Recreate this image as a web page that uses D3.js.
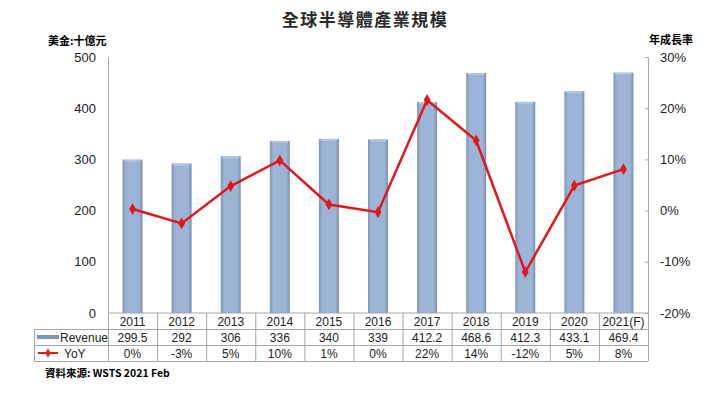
<!DOCTYPE html>
<html>
<head>
<meta charset="utf-8">
<script src="https://d3js.org/d3.v7.min.js"></script>
<style>
  body { margin: 0; background: #fff; }
  text { font-family: "Liberation Sans", Arial, sans-serif; }
  .cjk { font-family: "Noto Sans CJK TC", sans-serif; font-weight: bold; }
</style>
</head>
<body>
<script>
// data
var years = ['2011', '2012', '2013', '2014', '2015', '2016', '2017', '2018', '2019', '2020', '2021(F)'];
var revenue = [299.5, 292, 306, 336, 340, 339, 412.2, 468.6, 412.3, 433.1, 469.4];
var yoy = [0.3, -2.5, 4.8, 9.8, 1.2, -0.3, 21.6, 13.7, -12.0, 4.9, 8.1];
var revenueLabels = ['299.5', '292', '306', '336', '340', '339', '412.2', '468.6', '412.3', '433.1', '469.4'];
var yoyLabels = ['0%', '-3%', '5%', '10%', '1%', '0%', '22%', '14%', '-12%', '5%', '8%'];
var leftTicks = [0, 100, 200, 300, 400, 500];
var rightTicks = [-20, -10, 0, 10, 20, 30];

var width = 720, height = 396;
// plot box (note: "top" is taken by window.top, so use other names)
var pLeft = 108, pRight = 648, pTop = 57, pBottom = 313;
var rowH = 16;

var svg = d3.select('body').append('svg')
  .attr('width', width)
  .attr('height', height);

// bar gradient, darker edges like the bevelled excel bars
var defs = svg.append('defs');
var grad = defs.append('linearGradient').attr('id', 'barGrad')
  .attr('x1', '0%').attr('x2', '100%').attr('y1', '0%').attr('y2', '0%');
grad.append('stop').attr('offset', '0%').attr('stop-color', '#7d95b8');
grad.append('stop').attr('offset', '18%').attr('stop-color', '#9cb4d6');
grad.append('stop').attr('offset', '82%').attr('stop-color', '#9cb4d6');
grad.append('stop').attr('offset', '100%').attr('stop-color', '#7990b3');

var x = d3.scaleBand().domain(years).range([pLeft, pRight]);
var yL = d3.scaleLinear().domain([0, 500]).range([pBottom, pTop]);
var yR = d3.scaleLinear().domain([-20, 30]).range([pBottom, pTop]);

// title + unit labels
svg.append('text').attr('class', 'cjk')
  .attr('x', 365).attr('y', 26)
  .attr('text-anchor', 'middle')
  .attr('font-size', 17)
  .attr('letter-spacing', 1.5)
  .attr('fill', '#2a2a2a')
  .text('全球半導體產業規模');

svg.append('text').attr('class', 'cjk')
  .attr('x', 48).attr('y', 45)
  .attr('font-size', 11)
  .text('美金:十億元');

svg.append('text').attr('class', 'cjk')
  .attr('x', 649).attr('y', 44)
  .attr('font-size', 11)
  .text('年成長率');

// left axis
var axL = svg.append('g')
  .attr('transform', 'translate(' + pLeft + ',0)')
  .call(d3.axisLeft(yL).tickValues(leftTicks).tickSize(0).tickPadding(12));
axL.select('.domain').attr('stroke', '#a6a6a6');
axL.selectAll('text').attr('font-size', 13).attr('fill', '#222')
  .attr('font-family', '"Liberation Sans", Arial, sans-serif');

// right axis
var axR = svg.append('g')
  .attr('transform', 'translate(' + pRight + ',0)')
  .call(d3.axisRight(yR).tickValues(rightTicks).tickSize(0).tickPadding(12)
    .tickFormat(function(d) { return d + '%'; }));
axR.select('.domain').attr('stroke', '#a6a6a6');
axR.selectAll('.tick line').attr('x1', -3).attr('x2', 0).attr('stroke', '#a6a6a6');
axR.selectAll('text').attr('font-size', 13).attr('fill', '#222')
  .attr('font-family', '"Liberation Sans", Arial, sans-serif');

// bars
var barW = 20;
svg.append('g').selectAll('rect')
  .data(revenue)
  .enter()
  .append('rect')
  .attr('x', function(d, i) { return x(years[i]) + x.bandwidth() / 2 - barW / 2; })
  .attr('y', function(d) { return yL(d); })
  .attr('width', barW)
  .attr('height', function(d) { return yL(0) - yL(d); })
  .attr('fill', 'url(#barGrad)');

// little lighter cap on each bar
svg.append('g').selectAll('rect')
  .data(revenue)
  .enter()
  .append('rect')
  .attr('x', function(d, i) { return x(years[i]) + x.bandwidth() / 2 - barW / 2 + 2; })
  .attr('y', function(d) { return yL(d); })
  .attr('width', barW - 4)
  .attr('height', 2)
  .attr('fill', '#b3c7e3');

// yoy line
var line = d3.line()
  .x(function(d, i) { return x(years[i]) + x.bandwidth() / 2; })
  .y(function(d) { return yR(d); });

svg.append('path')
  .datum(yoy)
  .attr('d', line)
  .attr('fill', 'none')
  .attr('stroke', '#e3161b')
  .attr('stroke-width', 2.5);

var diamond = d3.symbol().type(d3.symbolDiamond).size(40);
svg.append('g').selectAll('path')
  .data(yoy)
  .enter()
  .append('path')
  .attr('d', diamond)
  .attr('transform', function(d, i) {
    return 'translate(' + (x(years[i]) + x.bandwidth() / 2) + ',' + yR(d) + ')';
  })
  .attr('fill', '#e3161b');

// data table below the plot
var table = svg.append('g');
var gridC = '#a6a6a6';
var tLeft = 34;
var rowsY = [pBottom, pBottom + rowH, pBottom + rowH * 2, pBottom + rowH * 3];

// horizontal lines
table.append('line').attr('x1', pLeft).attr('x2', pRight)
  .attr('y1', rowsY[0]).attr('y2', rowsY[0]).attr('stroke', gridC);
[1, 2, 3].forEach(function(r) {
  table.append('line').attr('x1', tLeft).attr('x2', pRight)
    .attr('y1', rowsY[r] + 0.5).attr('y2', rowsY[r] + 0.5).attr('stroke', gridC);
});
// vertical lines
table.append('line').attr('x1', tLeft + 0.5).attr('x2', tLeft + 0.5)
  .attr('y1', rowsY[1]).attr('y2', rowsY[3]).attr('stroke', gridC);
years.forEach(function(yr) {
  table.append('line').attr('x1', x(yr) + 0.5).attr('x2', x(yr) + 0.5)
    .attr('y1', rowsY[0]).attr('y2', rowsY[3]).attr('stroke', gridC);
});
table.append('line').attr('x1', pRight + 0.5).attr('x2', pRight + 0.5)
  .attr('y1', rowsY[0]).attr('y2', rowsY[3]).attr('stroke', gridC);

function rowText(labels, r) {
  table.selectAll(null)
    .data(labels)
    .enter()
    .append('text')
    .attr('x', function(d, i) { return x(years[i]) + x.bandwidth() / 2; })
    .attr('y', rowsY[r] + 12.5)
    .attr('text-anchor', 'middle')
    .attr('font-size', 12)
    .attr('fill', '#222')
    .text(function(d) { return d; });
}
rowText(years, 0);
rowText(revenueLabels, 1);
rowText(yoyLabels, 2);

// legend keys in the table
table.append('rect')
  .attr('x', 37).attr('y', rowsY[1] + 6)
  .attr('width', 22).attr('height', 4)
  .attr('fill', '#7d95b8');
table.append('text')
  .attr('x', 60).attr('y', rowsY[1] + 12.5)
  .attr('font-size', 12).attr('fill', '#222')
  .text('Revenue');

table.append('line')
  .attr('x1', 38).attr('x2', 58)
  .attr('y1', rowsY[2] + 8).attr('y2', rowsY[2] + 8)
  .attr('stroke', '#e3161b').attr('stroke-width', 2);
table.append('path')
  .attr('d', d3.symbol().type(d3.symbolDiamond).size(24))
  .attr('transform', 'translate(48,' + (rowsY[2] + 8) + ')')
  .attr('fill', '#e3161b');
table.append('text')
  .attr('x', 64).attr('y', rowsY[2] + 12.5)
  .attr('font-size', 12).attr('fill', '#222')
  .text('YoY');

// source note
svg.append('text').attr('class', 'cjk')
  .attr('x', 45).attr('y', 377)
  .attr('font-size', 10.5)
  .text('資料來源: WSTS 2021 Feb');
</script>
</body>
</html>
